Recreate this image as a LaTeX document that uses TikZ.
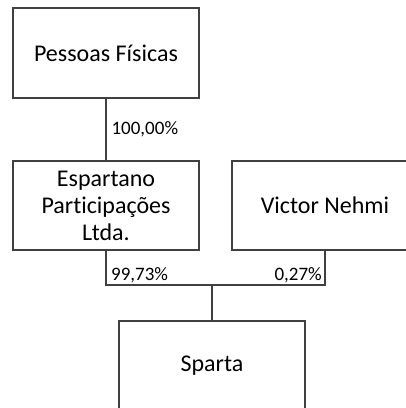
\documentclass[tikz,border=0pt]{standalone}
\usepackage{fontspec}
\setmainfont[Ligatures=NoCommon]{Carlito}
\begin{document}
\begin{tikzpicture}[x=1pt,y=-1pt,
    box/.style={draw=black!75,line width=1.2pt,minimum width=186pt,minimum height=90pt,align=center,inner sep=2pt,font=\fontsize{24}{27}\selectfont},
    pct/.style={inner sep=0pt,font=\fontsize{19}{22}\selectfont},
    link/.style={draw=black!75,line width=1.2pt}]
    \useasboundingbox (0,0) rectangle (406,408);
    \clip (0,0) rectangle (406,408);
    \node[box] (pf) at (106,53) {Pessoas Físicas};
    \node[box,minimum height=89pt] (esp) at (106,205.5) {Espartano\\Participações\\Ltda.};
    \node[box,minimum height=89pt] (vn) at (325,205.5) {Victor Nehmi};
    \node[box] (sp) at (212,366) {Sparta};
    \coordinate (j) at (212,285);
    \draw[link] (pf.south)--(esp.north) node[midway,right,pct,xshift=5pt]{100,00\%};
    \draw[link] (esp.south) |- (j) -| (vn.south);
    \draw[link] (j)--(sp.north);
    \node[pct,anchor=base west] (l1) at ([xshift=5pt,yshift=-30pt]esp.south) {99,73\%};
    \node[pct,anchor=base east] (l2) at ([xshift=-3pt,yshift=-30pt]vn.south) {0,27\%};
\end{tikzpicture}
\end{document}
